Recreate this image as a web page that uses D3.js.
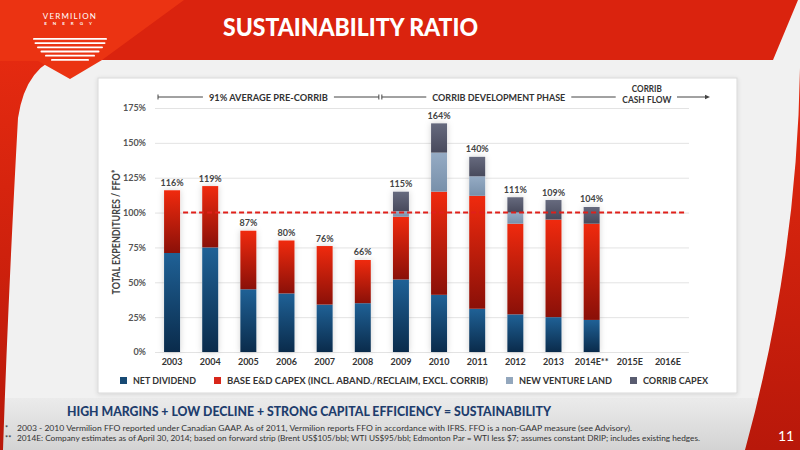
<!DOCTYPE html>
<html>
<head>
<meta charset="utf-8">
<script src="https://cdn.jsdelivr.net/npm/d3@7"></script>
<style>
  html, body { margin: 0; padding: 0; background: #efefef; }
  svg { display: block; font-family: Lato, 'Open Sans', sans-serif; }
</style>
</head>
<body>
<svg id="chart" width="800" height="450"></svg>
<script>
// chart values
const years = ['2003', '2004', '2005', '2006', '2007', '2008', '2009', '2010', '2011', '2012', '2013', '2014E**', '2015E', '2016E'];
const netDividend = [71, 75, 45, 42, 34, 35, 52, 41, 31, 27, 25, 23, 0, 0];
const baseCapex   = [45, 44, 42, 38, 42, 31, 45, 74, 81, 65, 70, 69, 0, 0];
const newVenture  = [0, 0, 0, 0, 0, 0, 4, 28, 14, 8, 0, 0, 0, 0];
const corribCapex = [0, 0, 0, 0, 0, 0, 14, 21, 14, 11, 14, 12, 0, 0];
const totalLabels = [116, 119, 87, 80, 76, 66, 115, 164, 140, 111, 109, 104, null, null];
const yTicks = [0, 25, 50, 75, 100, 125, 150, 175];
const seriesKeys = ['netDividend', 'baseCapex', 'newVenture', 'corribCapex'];
const seriesNames = ['NET DIVIDEND', 'BASE E&D CAPEX (INCL. ABAND./RECLAIM, EXCL. CORRIB)', 'NEW VENTURE LAND', 'CORRIB CAPEX'];
const phases = [
  { label: '91% AVERAGE PRE-CORRIB', from: '2003', to: '2008' },
  { label: 'CORRIB DEVELOPMENT PHASE', from: '2009', to: '2014E**' }
];
const cashFlowLabel = ['CORRIB', 'CASH FLOW'];
const breakEven = 100;

const svg = d3.select('#chart');
const defs = svg.append('defs');

// colours per series: [top, bottom, legend]
const colors = {
  netDividend: ['#1f6196', '#0a2b4b', '#174a74'],
  baseCapex:   ['#f02a0e', '#8a1008', '#d8261a'],
  newVenture:  ['#95abc4', '#7890aa', '#93a7bd'],
  corribCapex: ['#666a7e', '#484a5c', '#595c70']
};

seriesKeys.forEach(k => {
  const g = defs.append('linearGradient').attr('id', 'grad-' + k)
    .attr('x1', 0).attr('y1', 0).attr('x2', 0).attr('y2', 1);
  g.append('stop').attr('offset', '0%').attr('stop-color', colors[k][0]);
  g.append('stop').attr('offset', '100%').attr('stop-color', colors[k][1]);
});

const footGrad = defs.append('linearGradient').attr('id', 'foot').attr('x1', 0).attr('y1', 0).attr('x2', 0).attr('y2', 1);
footGrad.append('stop').attr('offset', '0%').attr('stop-color', '#ebebeb');
footGrad.append('stop').attr('offset', '100%').attr('stop-color', '#d3d3d3');

const redGrad = defs.append('linearGradient').attr('id', 'redside').attr('x1', 0).attr('y1', 0).attr('x2', 0).attr('y2', 1);
redGrad.append('stop').attr('offset', '0%').attr('stop-color', '#e52a10');
redGrad.append('stop').attr('offset', '100%').attr('stop-color', '#b8180a');

const shadow = defs.append('filter').attr('id', 'shadow').attr('x', '-50%').attr('y', '-20%').attr('width', '200%').attr('height', '140%');
shadow.append('feDropShadow').attr('dx', 0).attr('dy', 0).attr('stdDeviation', 3)
  .attr('flood-color', '#000').attr('flood-opacity', 0.18);

const panelShadow = defs.append('filter').attr('id', 'panelShadow').attr('x', '-5%').attr('y', '-5%').attr('width', '110%').attr('height', '110%');
panelShadow.append('feDropShadow').attr('dx', 0).attr('dy', 1).attr('stdDeviation', 2)
  .attr('flood-color', '#000').attr('flood-opacity', 0.12);

// slide background
svg.append('rect').attr('width', 800).attr('height', 450).attr('fill', '#f1f1f1');
svg.append('rect').attr('x', 0).attr('y', 398).attr('width', 800).attr('height', 52).attr('fill', 'url(#foot)');

// red side pieces
svg.append('path').attr('d', 'M0,55 L66,55 Q26,64 18,118 Q8,300 3,450 L0,450 Z').attr('fill', 'url(#redside)');
svg.append('path').attr('d', 'M800,68 Q797,260 745,450 L800,450 Z').attr('fill', 'url(#redside)');

// header
svg.append('path').attr('d', 'M0,0 L798,0 L773,60 L0,60 Z').attr('fill', '#da230e');
svg.append('path').attr('d', 'M0,0 L184,0 L102,60 L70,79 L38,61 L0,61 Z').attr('fill', '#eb3312');

// logo
svg.append('text').attr('x', 70).attr('y', 19).attr('text-anchor', 'middle')
  .attr('fill', '#fff').attr('font-size', 8).attr('letter-spacing', 1.2).text('VERMILION');
svg.append('text').attr('x', 71).attr('y', 25).attr('text-anchor', 'middle')
  .attr('fill', '#fff').attr('font-size', 4.5).attr('font-weight', 700).attr('letter-spacing', 6).text('ENERGY');
[74, 71, 66, 59, 50, 38].forEach((w, i) => {
  svg.append('rect').attr('x', 70 - w / 2).attr('y', 38 + i * 4.2).attr('width', w).attr('height', 1.8)
    .attr('rx', 0.9).attr('fill', '#fff');
});

svg.append('text').attr('x', 223).attr('y', 36).attr('fill', '#fff')
  .attr('font-size', 25).attr('font-weight', 900)
  .attr('textLength', 255).attr('lengthAdjust', 'spacingAndGlyphs')
  .text('SUSTAINABILITY RATIO');

// chart panel
svg.append('rect').attr('x', 98).attr('y', 78).attr('width', 639).attr('height', 315)
  .attr('fill', '#fff').attr('stroke', '#d9d9d9').attr('filter', 'url(#panelShadow)');

// scales
const x = d3.scaleBand().domain(years).range([153, 687]).paddingInner(0.58).paddingOuter(0.29);
const y = d3.scaleLinear().domain([0, 175]).range([352, 108]);

// gridlines + y labels
const yAxis = svg.append('g').attr('transform', 'translate(155,0)')
  .call(d3.axisLeft(y).tickValues(yTicks).tickSize(-534).tickPadding(9).tickFormat(d => d + '%'));
yAxis.select('.domain').remove();
yAxis.selectAll('line').attr('stroke', '#e3e3e3');
yAxis.selectAll('text').attr('fill', '#555').attr('font-size', 9).attr('font-weight', 700).attr('font-family', 'Lato');

// y title
svg.append('text').attr('transform', 'translate(120,232) rotate(-90)').attr('text-anchor', 'middle')
  .attr('fill', '#444').attr('font-size', 10.5).attr('font-weight', 700)
  .attr('textLength', 125).attr('lengthAdjust', 'spacingAndGlyphs')
  .text('TOTAL EXPENDITURES / FFO*');

// x labels
const xAxis = svg.append('g').attr('transform', 'translate(0,352)')
  .call(d3.axisBottom(x).tickSize(0).tickPadding(7));
xAxis.select('.domain').remove();
xAxis.selectAll('text').attr('fill', '#333').attr('font-size', 9).attr('font-weight', 700).attr('font-family', 'Lato');

// stacked bars
const rows = years.map((yr, i) => ({
  year: yr,
  netDividend: netDividend[i],
  baseCapex: baseCapex[i],
  newVenture: newVenture[i],
  corribCapex: corribCapex[i]
}));
const stacked = d3.stack().keys(seriesKeys)(rows);
const topLayer = stacked[stacked.length - 1];

const barsG = svg.append('g');
// soft glow behind each whole bar
barsG.append('g').selectAll('rect')
  .data(years.map((yr, i) => ({ year: yr, total: topLayer[i][1] })).filter(d => d.total > 0))
  .join('rect')
  .attr('x', d => x(d.year))
  .attr('width', x.bandwidth())
  .attr('y', d => y(d.total))
  .attr('height', d => y(0) - y(d.total))
  .attr('fill', '#fff')
  .attr('filter', 'url(#shadow)');

barsG.selectAll('g.layer')
  .data(stacked)
  .join('g')
  .attr('class', 'layer')
  .attr('fill', d => 'url(#grad-' + d.key + ')')
  .selectAll('rect')
  .data(d => d.filter(s => s[1] > s[0]))
  .join('rect')
  .attr('x', d => x(d.data.year))
  .attr('width', x.bandwidth())
  .attr('y', d => y(d[1]))
  .attr('height', d => y(d[0]) - y(d[1]));

// value labels
svg.append('g').selectAll('text')
  .data(years.map((yr, i) => ({ year: yr, label: totalLabels[i], total: topLayer[i][1] })).filter(d => d.label != null))
  .join('text')
  .attr('x', d => x(d.year) + x.bandwidth() / 2)
  .attr('y', d => y(d.total) - 4.5)
  .attr('text-anchor', 'middle')
  .attr('fill', '#444')
  .attr('font-size', 9)
  .attr('font-weight', 700)
  .text(d => d.label + '%');

// 100% line
svg.append('line')
  .attr('x1', x(years[0]) + x.bandwidth() + 3).attr('x2', 687)
  .attr('y1', y(breakEven)).attr('y2', y(breakEven))
  .attr('stroke', '#e0201a').attr('stroke-width', 2).attr('stroke-dasharray', '5,3');

// phase brackets
const bandStart = d => x(d) - x.step() * x.paddingInner() / 2;
const bandEnd = d => x(d) + x.bandwidth() + x.step() * x.paddingInner() / 2;
const annY = 97;
const ann = svg.append('g').attr('stroke', '#444').attr('stroke-width', 1);
const phaseWidths = [119, 133];
phases.forEach((p, i) => {
  const x0 = bandStart(p.from) + (i === 0 ? 5 : 0);
  const x1 = bandEnd(p.to) + (i === 0 ? -3 : 5);
  const cx = (x0 + x1) / 2;
  const w = phaseWidths[i];
  svg.append('text').attr('x', cx).attr('y', annY + 3.5)
    .attr('text-anchor', 'middle').attr('fill', '#333').attr('font-size', 10).attr('font-weight', 700)
    .attr('textLength', w).attr('lengthAdjust', 'spacingAndGlyphs')
    .text(p.label);
  ann.append('line').attr('x1', x0).attr('x2', cx - w / 2 - 6).attr('y1', annY).attr('y2', annY);
  ann.append('line').attr('x1', cx + w / 2 + 6).attr('x2', x1).attr('y1', annY).attr('y2', annY);
  ann.append('line').attr('x1', x0).attr('x2', x0).attr('y1', annY - 2.5).attr('y2', annY + 2.5);
  if (i === 0) ann.append('line').attr('x1', x1).attr('x2', x1).attr('y1', annY - 2.5).attr('y2', annY + 2.5);
});
const cfX = (bandStart('2015E') + bandEnd('2016E')) / 2 - 2;
cashFlowLabel.forEach((l, i) => {
  svg.append('text').attr('x', cfX).attr('y', 92 + i * 11).attr('text-anchor', 'middle')
    .attr('fill', '#333').attr('font-size', 9.5).attr('font-weight', 700)
    .attr('textLength', i === 0 ? 30 : 49).attr('lengthAdjust', 'spacingAndGlyphs')
    .text(l);
});
ann.append('line').attr('x1', 677).attr('x2', 707).attr('y1', annY).attr('y2', annY);
svg.append('path').attr('d', `M710,${annY} L705,${annY - 2.2} L705,${annY + 2.2} Z`).attr('fill', '#444');

// legend
const legendWidths = [63, 261, 93, 65];
let lx = 120;
const legend = svg.append('g');
seriesKeys.forEach((k, i) => {
  legend.append('rect').attr('x', lx).attr('y', 377).attr('width', 7).attr('height', 7).attr('fill', colors[k][2]);
  legend.append('text').attr('x', lx + 13).attr('y', 384).attr('fill', '#333')
    .attr('font-size', 10).attr('font-weight', 700)
    .attr('textLength', legendWidths[i]).attr('lengthAdjust', 'spacingAndGlyphs')
    .text(seriesNames[i]);
  lx += 13 + legendWidths[i] + 18;
});

// footer
svg.append('text').attr('x', 67).attr('y', 416).attr('fill', '#1e3d6d')
  .attr('font-size', 13.5).attr('font-weight', 900)
  .attr('textLength', 484).attr('lengthAdjust', 'spacingAndGlyphs')
  .text('HIGH MARGINS + LOW DECLINE + STRONG CAPITAL EFFICIENCY = SUSTAINABILITY');

const notes = [
  ['*', '2003 - 2010 Vermilion FFO reported under Canadian GAAP.  As of 2011, Vermilion reports FFO in accordance with IFRS.  FFO is a non-GAAP measure (see Advisory).', 615],
  ['**', '2014E: Company estimates as of April 30, 2014; based on forward strip (Brent US$105/bbl; WTI US$95/bbl; Edmonton Par = WTI less $7; assumes constant DRIP; includes existing hedges.', 683]
];
notes.forEach((n, i) => {
  svg.append('text').attr('x', 5).attr('y', 431 + i * 10).attr('fill', '#333').attr('font-size', 7.5).text(n[0]);
  svg.append('text').attr('x', 17).attr('y', 431 + i * 10).attr('fill', '#333').attr('font-size', 7.5)
    .attr('textLength', n[2]).attr('lengthAdjust', 'spacingAndGlyphs').text(n[1]);
});

svg.append('text').attr('x', 786).attr('y', 441).attr('text-anchor', 'middle')
  .attr('fill', '#fff').attr('font-size', 14).text('11');
</script>
</body>
</html>
